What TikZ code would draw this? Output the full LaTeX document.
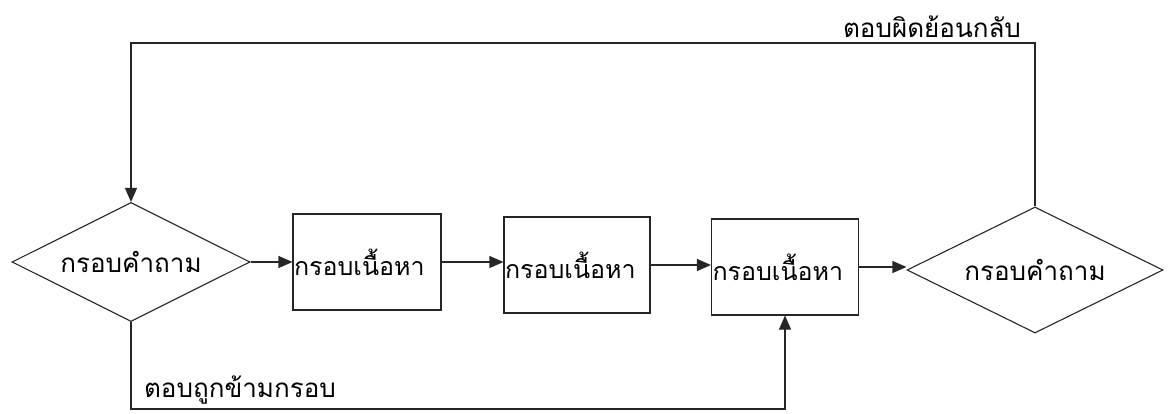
\documentclass[tikz,border=0pt]{standalone}
\usepackage{fontspec}
\newfontfamily\thaifont[Script=Thai]{Loma}
\usetikzlibrary{shapes.geometric,arrows.meta}
\begin{document}
\begin{tikzpicture}[x=1pt,y=-1pt,
  every node/.style={font=\thaifont\fontsize{26}{30}\selectfont},
  line/.style={line width=1.1pt,draw=black!85},
  flow/.style={line,-{Triangle[length=14pt,width=12pt]}},
  question/.style={diamond,line,inner sep=0pt},
  content/.style={rectangle,line,inner sep=1pt,minimum height=96pt,align=left,
    font=\thaifont\fontsize{25}{29}\selectfont},
  tag/.style={inner sep=0pt}]
\useasboundingbox (0,0) rectangle (1169,414);

% question frames (outline, then its caption)
\node[question,minimum width=238pt,minimum height=119pt] (q1) at (131,262) {};
\node[question,minimum width=256pt,minimum height=126pt] (q2) at (1035,270) {};
\node[tag] (q1text) at (q1.center) {กรอบคำถาม};
\node[tag] (q2text) at (q2.center) {กรอบคำถาม};

% content frames
\node[content,text width=146pt] (c1) at (367,262) {กรอบเนื้อหา\\[6pt]};
\node[content,text width=144pt] (c2) at (577,265) {กรอบเนื้อหา\\[6pt]};
\node[content,text width=145pt] (c3) at (785,267) {กรอบเนื้อหา\\[6pt]};

% route labels
\node[tag] (wrong) at (932,27) {ตอบผิดย้อนกลับ};
\node[tag] (right) at (240,390) {ตอบถูกข้ามกรอบ};

% bend points of the two routes
\coordinate (tr) at (1035,43);
\coordinate (tl) at (131,43);
\coordinate (bl) at (131,409);
\coordinate (br) at (785,409);

% main sequence
\draw[flow] (q1.east) -- (q1.east -| c1.west);
\draw[flow] (c1.east) -- (c1.east -| c2.west);
\draw[flow] (c2.east) -- (c2.east -| c3.west);
\draw[flow] (c3.east) -- (c3.east -| q2.west);

% wrong answer goes back
\draw[flow] (q2.north) -- (tr) -- (tl) -- (q1.north);
% right answer skips ahead
\draw[flow] (q1.south) -- (bl) -- (br) -- (c3.south);
\end{tikzpicture}
\end{document}
